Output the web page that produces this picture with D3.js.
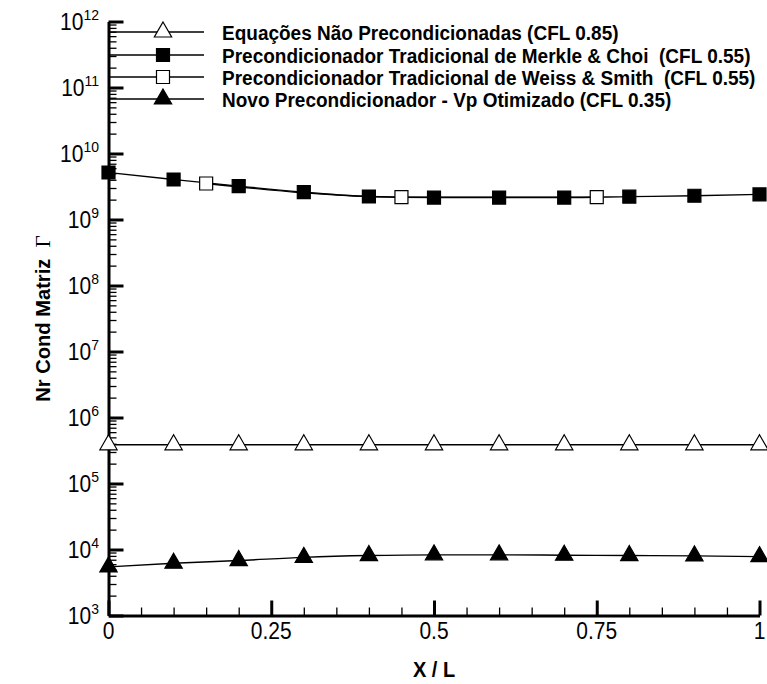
<!DOCTYPE html>
<html>
<head>
<meta charset="utf-8">
<script src="https://cdn.jsdelivr.net/npm/d3@7"></script>
<style>
  html, body { margin: 0; padding: 0; background: #fff; }
  svg { display: block; }
  text { font-family: "Liberation Sans", Arial, sans-serif; fill: #000; }
</style>
</head>
<body>
<svg id="chart" width="767" height="684"></svg>
<script>
// ---------- data ----------
const xValues = [0, 0.1, 0.2, 0.3, 0.4, 0.5, 0.6, 0.7, 0.8, 0.9, 1.0];
const naoPrecond = [3.86e5, 3.86e5, 3.86e5, 3.86e5, 3.86e5, 3.86e5, 3.86e5, 3.86e5, 3.86e5, 3.86e5, 3.86e5];
const merkleChoi = [5.15e9, 4.04e9, 3.2e9, 2.6e9, 2.23e9, 2.15e9, 2.15e9, 2.15e9, 2.22e9, 2.29e9, 2.4e9];
const weissX = [0.15, 0.45, 0.75];
const weissSmith = [3.51e9, 2.18e9, 2.18e9];
const novoPrecond = [5.45e3, 6.2e3, 6.8e3, 7.6e3, 8.1e3, 8.3e3, 8.3e3, 8.2e3, 8.1e3, 8.0e3, 7.8e3];

const legendLabels = [
  "Equações Não Precondicionadas (CFL 0.85)",
  "Precondicionador Tradicional de Merkle & Choi  (CFL 0.55)",
  "Precondicionador Tradicional de Weiss & Smith  (CFL 0.55)",
  "Novo Precondicionador - Vp Otimizado (CFL 0.35)"
];
const xMajorTicks = [0, 0.25, 0.5, 0.75, 1];
const xTickLabels = ["0", "0.25", "0.5", "0.75", "1"];
const yExponents = [3, 4, 5, 6, 7, 8, 9, 10, 11, 12];
const xTitle = "X / L";
const yTitle = "Nr Cond Matriz";
const yTitleSymbol = "Γ";

// ---------- layout ----------
const svg = d3.select("#chart");
const x = d3.scaleLinear().domain([0, 1]).range([108.5, 759.5]);
const y = d3.scaleLog().domain([1e3, 1e12]).range([615.5, 21.5]);
const STRETCH = 1.1;

// ---------- axes ----------
const yMajor = yExponents.map(e => Math.pow(10, e));
const yMinor = [];
yExponents.slice(0, -1).forEach(e => { for (let k = 2; k <= 9; k++) yMinor.push(k * Math.pow(10, e)); });
const xMinor = d3.range(0, 21).map(i => i * 0.05).filter(v => xMajorTicks.every(m => Math.abs(m - v) > 1e-9));

const gAxes = svg.append("g");

gAxes.append("g").attr("transform", `translate(${x(0)},0)`)
  .call(d3.axisLeft(y).tickValues(yMinor).tickSize(-8).tickFormat(""))
  .call(g => g.select(".domain").remove())
  .call(g => g.selectAll(".tick line").attr("stroke", "#000").attr("stroke-width", 1.3));
gAxes.append("g").attr("transform", `translate(${x(0)},0)`)
  .call(d3.axisLeft(y).tickValues(yMajor).tickSize(-15).tickSizeOuter(0).tickFormat(""))
  .call(g => g.select(".domain").attr("stroke", "#000").attr("stroke-width", 3))
  .call(g => g.selectAll(".tick line").attr("stroke", "#000").attr("stroke-width", 3));
gAxes.append("g").attr("transform", `translate(0,${y(1e3)})`)
  .call(d3.axisBottom(x).tickValues(xMinor).tickSize(-8).tickFormat(""))
  .call(g => g.select(".domain").remove())
  .call(g => g.selectAll(".tick line").attr("stroke", "#000").attr("stroke-width", 1.3));
gAxes.append("g").attr("transform", `translate(0,${y(1e3)})`)
  .call(d3.axisBottom(x).tickValues(xMajorTicks).tickSize(-15).tickSizeOuter(0).tickFormat(""))
  .call(g => g.select(".domain").attr("stroke", "#000").attr("stroke-width", 3))
  .call(g => g.selectAll(".tick line").attr("stroke", "#000").attr("stroke-width", 3));

// y tick labels (10^n)
const yLab = svg.append("g");
yExponents.forEach(e => {
  const t = yLab.append("text")
    .attr("transform", `translate(99,${y(Math.pow(10, e)) + 8}) scale(1,${STRETCH})`)
    .attr("text-anchor", "end").style("font-size", "21px");
  t.append("tspan").text("10");
  t.append("tspan").attr("dy", -9).style("font-size", "14px").text(String(e));
});

// x tick labels
svg.append("g").selectAll("text").data(xMajorTicks).join("text")
  .attr("transform", d => `translate(${x(d)},639) scale(1,${STRETCH})`)
  .attr("text-anchor", "middle").style("font-size", "21px")
  .text((d, i) => xTickLabels[i]);

// axis titles
svg.append("text").attr("transform", `translate(${x(0.5)},677) scale(1,${STRETCH})`)
  .attr("text-anchor", "middle")
  .style("font-size", "20px").style("font-weight", "bold").text(xTitle);

const yt = svg.append("text")
  .attr("transform", `translate(50,${(y(1e3) + y(1e12)) / 2}) rotate(-90) scale(1.06,${STRETCH})`)
  .attr("text-anchor", "middle").style("font-size", "19px").style("font-weight", "bold");
yt.append("tspan").text(yTitle + "\u00a0\u00a0");
yt.append("tspan").style("font-family", "'Liberation Serif', 'DejaVu Serif', serif")
  .style("font-weight", "normal").style("font-size", "20px").text(yTitleSymbol);

// ---------- series ----------
const line = d3.line().x(d => x(d[0])).y(d => y(d[1])).curve(d3.curveMonotoneX);
const series = [
  { xs: xValues, ys: naoPrecond, symbol: d3.symbolTriangle, size: 130, fill: "#fff" },
  { xs: xValues, ys: merkleChoi, symbol: d3.symbolSquare, size: 169, fill: "#000" },
  { xs: weissX, ys: weissSmith, symbol: d3.symbolSquare, size: 169, fill: "#fff" },
  { xs: xValues, ys: novoPrecond, symbol: d3.symbolTriangle, size: 130, fill: "#000" }
];

const gLines = svg.append("g");
series.forEach(s => {
  gLines.append("path")
    .datum(s.xs.map((v, i) => [v, s.ys[i]]))
    .attr("d", line).attr("fill", "none").attr("stroke", "#000").attr("stroke-width", 1.4);
});
const gSym = svg.append("g");
series.forEach(s => {
  gSym.selectAll(null).data(s.xs.map((v, i) => [v, s.ys[i]])).join("path")
    .attr("transform", d => `translate(${x(d[0])},${y(d[1])})`)
    .attr("d", d3.symbol().type(s.symbol).size(s.size)())
    .attr("fill", s.fill).attr("stroke", "#000").attr("stroke-width", 1.2);
});

// ---------- legend ----------
const legendRowsY = [32, 55, 77, 99];
const gLeg = svg.append("g");
series.forEach((s, i) => {
  const ly = legendRowsY[i];
  gLeg.append("line").attr("x1", 110).attr("x2", 204).attr("y1", ly).attr("y2", ly)
    .attr("stroke", "#000").attr("stroke-width", 1.4);
  gLeg.append("path").attr("transform", `translate(163,${ly})`)
    .attr("d", d3.symbol().type(s.symbol).size(s.size)())
    .attr("fill", s.fill).attr("stroke", "#000").attr("stroke-width", 1.2);
  gLeg.append("text").attr("transform", `translate(222,${ly + 7.5}) scale(1,${STRETCH})`)
    .style("font-size", "19px").style("font-weight", "bold")
    .style("white-space", "pre").attr("xml:space", "preserve")
    .text(legendLabels[i]);
});
</script>
</body>
</html>
